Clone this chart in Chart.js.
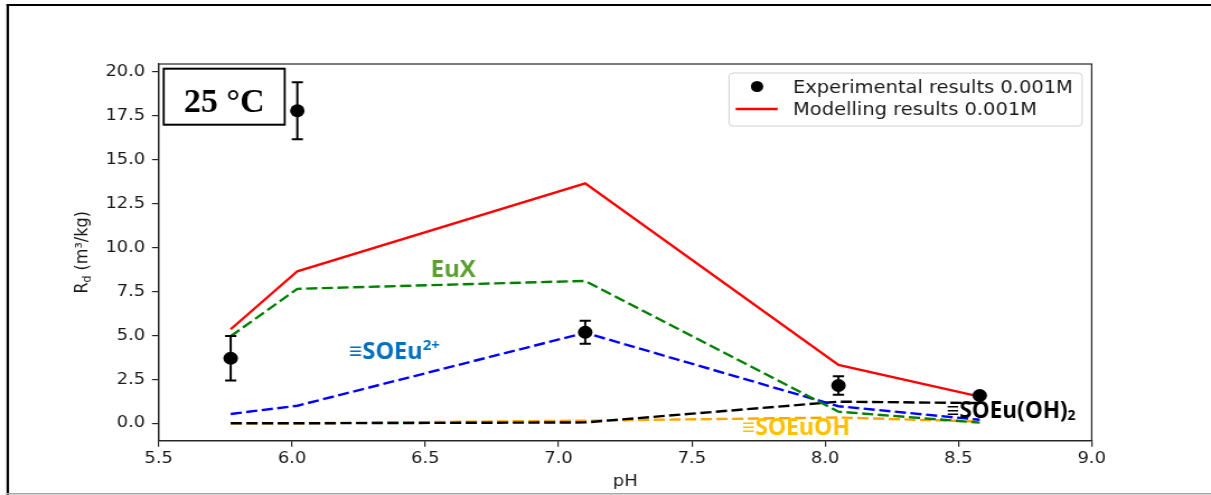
<!DOCTYPE html>
<html>
<head>
<meta charset="utf-8">
<script src="https://cdn.jsdelivr.net/npm/chart.js@4/dist/chart.umd.min.js"></script>
<style>
  html, body { margin: 0; padding: 0; background: #fff; overflow: hidden; }
  #wrap { width: 1082px; height: 495px; transform: scaleX(1.119224); transform-origin: 0 0; }
  canvas { display: block; }
</style>
</head>
<body>
<div id="wrap"><canvas id="c" width="1082" height="495"></canvas></div>
<script>
// Horizontal stretch of the figure (canvas is drawn narrow, then widened)
const SX = 1211 / 1082;

// pH of the batch experiments / model runs
const phValues = [5.77, 6.02, 7.10, 8.05, 8.58];

// Measured distribution coefficients Rd (m3/kg) and their uncertainties
const rdExperimental = [3.70, 17.78, 5.18, 2.15, 1.58];
const rdErrors       = [1.27, 1.62, 0.65, 0.53, 0.00];

// Modelled total Rd and the contribution of each sorbed species
const rdModel    = [5.35, 8.65, 13.65, 3.32, 1.52];
const rdEuX      = [4.95, 7.65, 8.10, 0.66, 0.04];
const rdSOEu     = [0.53, 1.00, 5.15, 0.97, 0.20];
const rdSOEuOH2  = [0.00, 0.00, 0.05, 1.23, 1.15];
const rdSOEuOH   = [0.00, 0.00, 0.15, 0.33, 0.10];

// Axis ticks
const xTicks = [5.5, 6.0, 6.5, 7.0, 7.5, 8.0, 8.5, 9.0];
const yTicks = [0, 2.5, 5, 7.5, 10, 12.5, 15, 17.5, 20];

const legendLabels = ['Experimental results 0.001M', 'Modelling results 0.001M'];

const pts = arr => phValues.map((x, i) => ({ x, y: arr[i] }));

const dashed = (label, arr, color) => ({
  type: 'line', label, data: pts(arr), borderColor: color, backgroundColor: color,
  borderWidth: 2.4, borderDash: [10, 4], pointRadius: 0, showLine: true, tension: 0, fill: false
});

const datasets = [
  { type: 'scatter', label: legendLabels[0], data: pts(rdExperimental),
    backgroundColor: '#000', borderColor: '#000', pointRadius: 6.5, borderWidth: 0, pointHoverRadius: 6.5 },
  { type: 'line', label: legendLabels[1], data: pts(rdModel), borderColor: '#ff0000',
    borderWidth: 2.4, pointRadius: 0, showLine: true, tension: 0, fill: false },
  dashed('EuX', rdEuX, '#008000'),
  dashed('≡SOEu2+', rdSOEu, '#0000ff'),
  dashed('≡SOEu(OH)2', rdSOEuOH2, '#000000'),
  dashed('≡SOEuOH', rdSOEuOH, '#ffa500')
];

// Vertical error bars with caps on the measured points
const errorBars = {
  id: 'errorBars',
  afterDatasetsDraw(chart) {
    const { ctx, scales: { x, y } } = chart;
    ctx.save();
    ctx.strokeStyle = '#000';
    ctx.lineWidth = 2;
    phValues.forEach((ph, i) => {
      const e = rdErrors[i];
      if (!e) return;
      const px = x.getPixelForValue(ph);
      const top = y.getPixelForValue(rdExperimental[i] + e);
      const bot = y.getPixelForValue(rdExperimental[i] - e);
      ctx.beginPath();
      ctx.moveTo(px, top); ctx.lineTo(px, bot);
      ctx.moveTo(px - 5, top); ctx.lineTo(px + 5, top);
      ctx.moveTo(px - 5, bot); ctx.lineTo(px + 5, bot);
      ctx.stroke();
    });
    ctx.restore();
  }
};

// Spines, legend, axis titles and text labels
const decorations = {
  id: 'decorations',
  afterDraw(chart) {
    const { ctx, chartArea: a, scales: { x, y } } = chart;
    ctx.save();

    // full box around the axes
    ctx.strokeStyle = '#262626';
    ctx.lineWidth = 1.2;
    ctx.strokeRect(a.left, a.top, a.right - a.left, a.bottom - a.top);

    // legend
    const lx = 651.4, ly = 73, lw = 315.4, lh = 53, r = 3.5;
    ctx.beginPath();
    ctx.moveTo(lx + r, ly);
    ctx.arcTo(lx + lw, ly, lx + lw, ly + lh, r);
    ctx.arcTo(lx + lw, ly + lh, lx, ly + lh, r);
    ctx.arcTo(lx, ly + lh, lx, ly, r);
    ctx.arcTo(lx, ly, lx + lw, ly, r);
    ctx.closePath();
    ctx.fillStyle = 'rgba(255,255,255,0.85)';
    ctx.fill();
    ctx.strokeStyle = '#d0d0d0';
    ctx.lineWidth = 1;
    ctx.stroke();

    const rows = [86.5, 109];
    ctx.fillStyle = '#000';
    ctx.beginPath();
    ctx.arc(676.4, rows[0], 5.5, 0, Math.PI * 2);
    ctx.fill();
    ctx.strokeStyle = '#ff0000';
    ctx.lineWidth = 2.4;
    ctx.beginPath();
    ctx.moveTo(657.3, rows[1]); ctx.lineTo(694.8, rows[1]);
    ctx.stroke();

    ctx.font = '17.4px "DejaVu Sans"';
    ctx.fillStyle = '#1a1a1a';
    ctx.textBaseline = 'middle';
    ctx.textAlign = 'left';
    legendLabels.forEach((t, i) => ctx.fillText(t, 708.5, rows[i] + 1.5));

    // x-axis title
    ctx.font = '16px "DejaVu Sans"';
    ctx.textAlign = 'center';
    ctx.fillText('pH', (a.left + a.right) / 2, 482);

    // y-axis title: R_d (m³/kg)
    ctx.save();
    ctx.translate(72.4, (a.top + a.bottom) / 2);
    ctx.rotate(-Math.PI / 2);
    ctx.textBaseline = 'alphabetic';
    ctx.textAlign = 'left';
    const big = '16px "DejaVu Sans"', small = '11px "DejaVu Sans"';
    ctx.font = big; const wR = ctx.measureText('R').width;
    ctx.font = small; const wd = ctx.measureText('d').width;
    ctx.font = big; const wRest = ctx.measureText(' (m³/kg)').width;
    let sx0 = -(wR + wd + wRest) / 2;
    ctx.font = big; ctx.fillText('R', sx0, 6); sx0 += wR;
    ctx.font = small; ctx.fillText('d', sx0, 9); sx0 += wd;
    ctx.font = big; ctx.fillText(' (m³/kg)', sx0, 6);
    ctx.restore();

    // ---- unstretched overlay (frame, temperature box, species labels) ----
    ctx.setTransform(1 / SX, 0, 0, 1, 0, 0);
    const X = v => x.getPixelForValue(v) * SX;
    const Y = v => y.getPixelForValue(v);

    // outer frame
    ctx.fillStyle = '#000';
    ctx.fillRect(6.5, 4, 2.5, 491);
    ctx.fillRect(6.5, 4, 1211, 2);
    ctx.fillStyle = '#a6a6a6';
    ctx.fillRect(6.5, 493, 1211, 1.5);

    // temperature box
    ctx.fillStyle = '#fff';
    ctx.fillRect(163.7, 68.7, 121, 56);
    ctx.strokeStyle = '#000';
    ctx.lineWidth = 2;
    ctx.strokeRect(163.7, 68.7, 121, 56);
    ctx.fillStyle = '#000';
    ctx.font = 'bold 34px "Liberation Serif"';
    ctx.textAlign = 'center';
    ctx.textBaseline = 'alphabetic';
    ctx.fillText('25 °C', 224.2, 111.7);

    // species labels, anchored at (pH, Rd)
    const rich = (parts, ph, rd, color) => {
      let cx = X(ph);
      const by = Y(rd);
      ctx.fillStyle = color;
      ctx.textAlign = 'left';
      parts.forEach(p => {
        ctx.font = `bold ${p.size}px "Open Sans"`;
        ctx.fillText(p.t, cx, by + (p.dy || 0));
        cx += ctx.measureText(p.t).width;
      });
    };
    rich([{ t: 'EuX', size: 24 }], 6.52, 8.34, '#5ba02f');
    rich([{ t: '≡SOEu', size: 23.5 }, { t: '2+', size: 15, dy: -9.5 }], 6.214, 3.64, '#0070c0');
    rich([{ t: '≡SOEuOH', size: 23 }], 7.688, -0.67, '#ffc000');
    rich([{ t: '≡SOEu(OH)', size: 22.5 }, { t: '2', size: 14, dy: 2 }], 8.456, 0.28, '#000');

    ctx.restore();
  }
};

const axisCommon = {
  type: 'linear',
  grid: { drawOnChartArea: false, drawTicks: true, tickLength: 6, color: '#262626', lineWidth: 1.2 },
  border: { display: true, color: '#262626', width: 1.2 }
};

new Chart(document.getElementById('c'), {
  type: 'scatter',
  data: { datasets },
  options: {
    responsive: false,
    animation: false,
    devicePixelRatio: 1,
    events: [],
    layout: { padding: { left: 0, right: 106.6, top: 64, bottom: 0 } },
    plugins: { legend: { display: false }, tooltip: { enabled: false } },
    scales: {
      x: {
        ...axisCommon,
        position: 'bottom',
        min: 5.5, max: 9.0,
        afterBuildTicks: s => { s.ticks = xTicks.map(v => ({ value: v })); },
        afterFit: s => { s.height = 54.3; },
        ticks: { font: { family: 'DejaVu Sans', size: 16 }, color: '#1a1a1a', padding: 3,
                 maxRotation: 0, autoSkip: false, callback: v => v.toFixed(1) }
      },
      y: {
        ...axisCommon,
        position: 'left',
        min: -0.99, max: 20.44,
        afterBuildTicks: s => { s.ticks = yTicks.map(v => ({ value: v })); },
        afterFit: s => { s.width = 141.8; },
        ticks: { font: { family: 'DejaVu Sans', size: 16 }, color: '#1a1a1a', padding: 6,
                 autoSkip: false, callback: v => v.toFixed(1) }
      }
    }
  },
  plugins: [errorBars, decorations]
});
</script>
</body>
</html>
